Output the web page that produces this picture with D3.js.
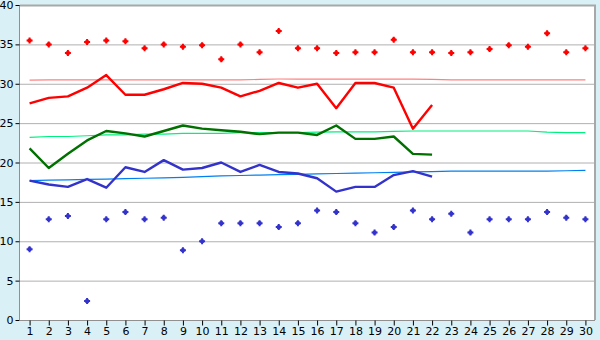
<!DOCTYPE html>
<html>
<head>
<meta charset="utf-8">
<script src="https://cdnjs.cloudflare.com/ajax/libs/d3/7.8.5/d3.min.js"></script>
<style>
  html, body { margin: 0; padding: 0; background: #daf0f7; }
  svg { display: block; }
  .tick text { font-family: "DejaVu Sans", sans-serif; font-size: 11px; fill: #000; }
</style>
</head>
<body>
<svg id="chart" width="600" height="340"></svg>
<script>
var days = d3.range(1, 31);
var yTicks = [0, 5, 10, 15, 20, 25, 30, 35, 40];

// daily record highs / lows (scatter)
var recordHigh = [35.5, 35.0, 33.9, 35.3, 35.5, 35.4, 34.5, 35.0, 34.7, 34.9,
                  33.1, 35.0, 34.0, 36.7, 34.5, 34.5, 33.9, 34.0, 34.0, 35.6,
                  34.0, 34.0, 33.9, 34.0, 34.4, 34.9, 34.7, 36.4, 34.0, 34.5];
var recordLow = [9.0, 12.8, 13.2, 2.4, 12.8, 13.7, 12.8, 13.0, 8.85, 10.0,
                 12.3, 12.3, 12.3, 11.8, 12.3, 13.9, 13.7, 12.3, 11.1, 11.8,
                 13.9, 12.8, 13.5, 11.1, 12.8, 12.8, 12.8, 13.7, 13.0, 12.8];

// this month, days 1-22
var maxTemp = [27.5, 28.2, 28.4, 29.5, 31.1, 28.6, 28.6, 29.3, 30.1, 30.0,
               29.5, 28.4, 29.1, 30.1, 29.5, 30.0, 26.9, 30.1, 30.1, 29.5,
               24.3, 27.3];
var meanTemp = [21.8, 19.3, 21.1, 22.8, 24.0, 23.7, 23.3, 24.0, 24.7, 24.3,
                24.1, 23.9, 23.6, 23.8, 23.8, 23.5, 24.7, 23.0, 23.0, 23.3,
                21.1, 21.0];
var minTemp = [17.7, 17.2, 16.9, 17.9, 16.8, 19.4, 18.8, 20.3, 19.1, 19.3,
               20.0, 18.8, 19.7, 18.8, 18.6, 18.0, 16.3, 16.9, 16.9, 18.4,
               18.9, 18.2];

// normals
var normalMax = [30.45, 30.5, 30.5, 30.5, 30.5, 30.5, 30.5, 30.5, 30.5, 30.5,
                 30.5, 30.5, 30.55, 30.6, 30.6, 30.6, 30.6, 30.6, 30.6, 30.6,
                 30.6, 30.55, 30.5, 30.5, 30.5, 30.5, 30.5, 30.5, 30.5, 30.5];
var normalMean = [23.2, 23.3, 23.3, 23.4, 23.5, 23.5, 23.6, 23.6, 23.7, 23.7,
                  23.7, 23.8, 23.8, 23.8, 23.8, 23.85, 23.9, 23.9, 23.9, 23.95,
                  24.0, 24.0, 24.0, 24.0, 24.0, 24.0, 24.0, 23.85, 23.8, 23.8];
var normalMin = [17.7, 17.75, 17.8, 17.85, 17.9, 17.95, 18.0, 18.05, 18.1, 18.2,
                 18.3, 18.35, 18.4, 18.45, 18.5, 18.55, 18.6, 18.65, 18.7, 18.75,
                 18.8, 18.85, 18.9, 18.9, 18.9, 18.9, 18.9, 18.9, 18.95, 19.0];

var svg = d3.select('#chart');
var margin = { top: 5, right: 5, bottom: 20, left: 20 };
var width = 600, height = 340;

var xScale = d3.scalePoint()
    .domain(days)
    .range([margin.left, width - margin.right])
    .padding(0.5);
var yScale = d3.scaleLinear()
    .domain([0, 40])
    .range([height - margin.bottom, margin.top]);

svg.append('rect')
    .attr('x', margin.left)
    .attr('y', margin.top)
    .attr('width', width - margin.left - margin.right)
    .attr('height', height - margin.top - margin.bottom)
    .attr('fill', 'white');

// grid
svg.append('g').selectAll('line')
    .data(yTicks.slice(1, -1))
    .enter().append('line')
    .attr('x1', margin.left)
    .attr('x2', width - margin.right)
    .attr('y1', d => yScale(d) + 0.5)
    .attr('y2', d => yScale(d) + 0.5)
    .attr('stroke', '#b0b0b0');

// frame top / right
svg.append('path')
    .attr('d', 'M' + margin.left + ',' + (margin.top + 0.5) + 'H' + (width - margin.right) + 'V' + (height - margin.bottom))
    .attr('fill', 'none')
    .attr('stroke', '#a8a8a8')
    .attr('stroke-width', 2);

var xAxis = d3.axisBottom(xScale).tickSize(5).tickPadding(2);
var yAxis = d3.axisLeft(yScale).tickValues(yTicks).tickSize(4).tickPadding(2);

var gx = svg.append('g')
    .attr('transform', 'translate(0,' + (height - margin.bottom + 0.5) + ')')
    .call(xAxis);
gx.select('.domain').attr('stroke', '#909090').attr('d', 'M' + margin.left + ',0H' + (width - margin.right));
gx.selectAll('.tick line').attr('stroke', '#000');

var gy = svg.append('g')
    .attr('transform', 'translate(' + (margin.left - 0.5) + ',0)')
    .call(yAxis);
gy.select('.domain').attr('stroke', '#909090').attr('d', 'M0,' + margin.top + 'V' + (height - margin.bottom));
gy.selectAll('.tick line').attr('stroke', '#000');

function drawLine(values, color, w) {
    var line = d3.line()
        .x((_, i) => xScale(days[i]))
        .y(d => yScale(d));
    svg.append('path')
        .attr('d', line(values))
        .attr('fill', 'none')
        .attr('stroke', color)
        .attr('stroke-width', w)
        .attr('stroke-linejoin', 'round');
}

drawLine(normalMax, '#ff8080', 1.2);
drawLine(normalMean, '#00f080', 1.2);
drawLine(normalMin, '#0080f0', 1.2);

drawLine(maxTemp, '#ff0000', 2.4);
drawLine(meanTemp, '#007000', 2.4);
drawLine(minTemp, '#3333cc', 2.4);

// small chunky plus, like the old bitmap marker
var chunkyCross = {
    draw: function(ctx, size) {
        var a = 1, b = 3, c = 1.8;
        ctx.moveTo(-a, -b);
        ctx.lineTo(a, -b);
        ctx.lineTo(a, -a);
        ctx.lineTo(b, -a);
        ctx.lineTo(b, a);
        ctx.lineTo(a, a);
        ctx.lineTo(a, b);
        ctx.lineTo(-a, b);
        ctx.lineTo(-a, a);
        ctx.lineTo(-b, a);
        ctx.lineTo(-b, -a);
        ctx.lineTo(-a, -a);
        ctx.closePath();
        ctx.rect(-c, -c, 2 * c, 2 * c);
    }
};
var marker = d3.symbol().type(chunkyCross);

function drawPoints(values, color) {
    svg.append('g').selectAll('path')
        .data(values)
        .enter().append('path')
        .attr('d', marker)
        .attr('transform', (d, i) => 'translate(' + xScale(days[i]) + ',' + yScale(d) + ')')
        .attr('fill', color)
        .attr('fill-rule', 'nonzero');
}

drawPoints(recordHigh, '#ff0000');
drawPoints(recordLow, '#3333cc');
</script>
</body>
</html>
